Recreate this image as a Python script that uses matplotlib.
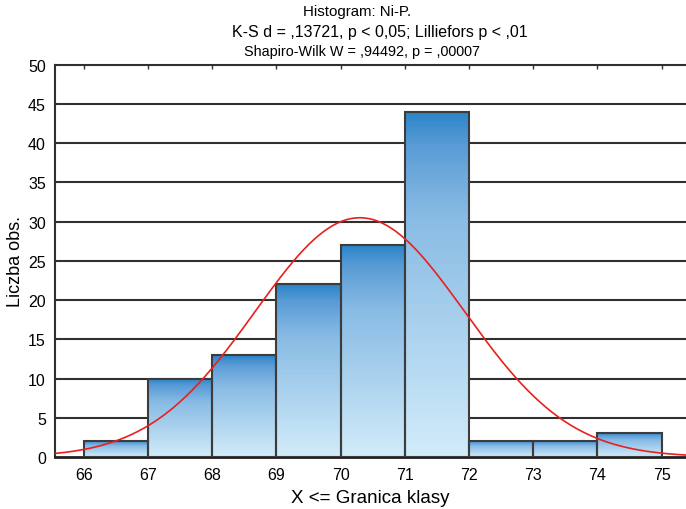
import numpy as np
import matplotlib
matplotlib.use("Agg")
import matplotlib.pyplot as plt
from matplotlib.colors import LinearSegmentedColormap

plt.rcParams['font.family'] = ['Liberation Sans', 'DejaVu Sans']

# class boundaries and counts
bin_left = [66, 67, 68, 69, 70, 71, 72, 73, 74]
counts = [2, 10, 13, 22, 27, 44, 2, 2, 3]
bin_width = 1.0
x_ticks = [66, 67, 68, 69, 70, 71, 72, 73, 74, 75]
y_ticks = [0, 5, 10, 15, 20, 25, 30, 35, 40, 45, 50]

# fitted normal distribution
fit_mean = 70.3
fit_sd = 1.635
n_obs = sum(counts)

title_lines = ["Histogram: Ni-P.",
               "K-S d = ,13721, p < 0,05; Lilliefors p < ,01",
               "Shapiro-Wilk W = ,94492, p = ,00007"]

fig = plt.figure(figsize=(6.86, 5.10), dpi=100)
ax = fig.add_axes([0.080, 0.102, 0.920, 0.769])
xmin, xmax = 65.55, 75.38
ax.set_xlim(xmin, xmax)
ax.set_ylim(0, 50)

# horizontal grid
for yv in y_ticks[1:-1]:
    ax.axhline(yv, color='#303030', lw=1.5, zorder=1)

# gradient fill for the bars (dark at top, light at bottom)
cmap = LinearSegmentedColormap.from_list(
    'barfill',
    [(0.0, '#2a84c9'), (0.10, '#5a9cd6'), (0.30, '#88bbe4'), (1.0, '#d2ecf9')])
grad = np.linspace(0, 1, 256).reshape(-1, 1)
for left, c in zip(bin_left, counts):
    ax.imshow(grad, cmap=cmap, aspect='auto', interpolation='bilinear',
              extent=(left, left + bin_width, 0, c), origin='upper', zorder=2)
    ax.bar(left, c, width=bin_width, align='edge', facecolor='none',
           edgecolor='#3c3c3c', linewidth=1.5, zorder=3)

# normal curve
xs = np.linspace(xmin, xmax, 400)
ys = n_obs * bin_width * np.exp(-0.5 * ((xs - fit_mean) / fit_sd) ** 2) / (fit_sd * np.sqrt(2 * np.pi))
ax.plot(xs, ys, color='#e8201e', lw=1.2, zorder=4, clip_on=True)

ax.set_xlim(xmin, xmax)
ax.set_ylim(0, 50)
ax.set_xticks(x_ticks)
ax.set_yticks(y_ticks)
ax.tick_params(axis='x', bottom=False, top=True, direction='in', length=3,
               width=1, color='#303030', labelsize=11.5, pad=7)
ax.tick_params(axis='y', left=False, labelsize=11.5, pad=3)
ax.spines['right'].set_visible(False)
for s in ('left', 'top'):
    ax.spines[s].set_color('#303030')
    ax.spines[s].set_linewidth(1.5)
ax.spines['bottom'].set_color('#202020')
ax.spines['bottom'].set_linewidth(2)

ax.set_xlabel("X <= Granica klasy", fontsize=13.5, labelpad=5)
ax.set_ylabel("Liczba obs.", fontsize=13, labelpad=3)

fig.text(0.520, 0.976, title_lines[0], ha='center', va='center', fontsize=10.8)
fig.text(0.554, 0.936, title_lines[1], ha='center', va='center', fontsize=11.5)
fig.text(0.527, 0.898, title_lines[2], ha='center', va='center', fontsize=10.4)

fig.savefig("out.png", dpi=100)
